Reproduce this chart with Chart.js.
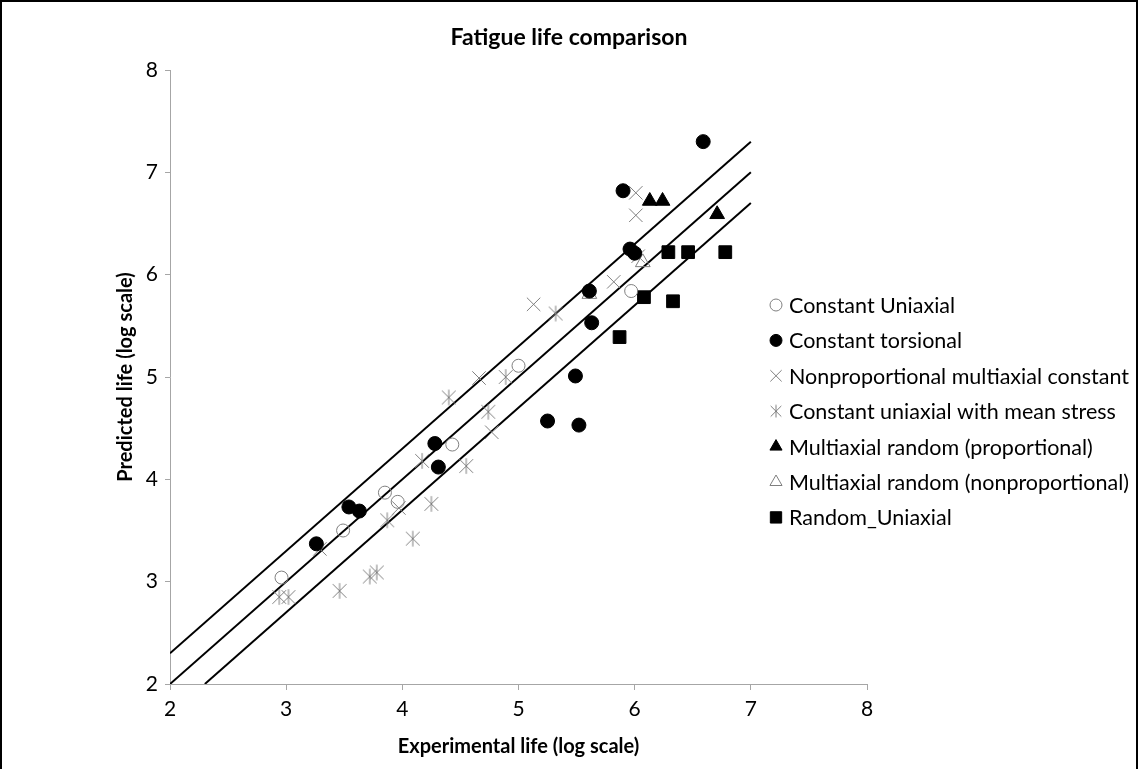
<!DOCTYPE html>
<html>
<head>
<meta charset="utf-8">
<title>Fatigue life comparison</title>
<script src="https://cdn.jsdelivr.net/npm/chart.js@4.4.0/dist/chart.umd.min.js"></script>
<style>
    html, body { margin: 0; padding: 0; background: #fff; }
</style>
</head>
<body>
<canvas id="fatigueChart" width="1138" height="769"></canvas>
<script>
/* DATOS (log experimental vs log predicho) */

// Constant Uniaxial
const uniaxialX = [2.96, 3.49, 3.85, 3.96, 4.43, 5.00, 5.97];
const uniaxialY = [3.04, 3.50, 3.87, 3.78, 4.34, 5.11, 5.84];

// Constant torsional
const torsionalX = [3.26, 3.54, 3.63, 4.28, 4.31, 5.25, 5.52, 5.49, 5.63, 5.61, 5.96, 6.00, 5.90, 6.59];
const torsionalY = [3.37, 3.73, 3.69, 4.35, 4.12, 4.57, 4.53, 5.01, 5.53, 5.84, 6.25, 6.21, 6.82, 7.30];

// Nonproportional multiaxial constant
const nonpropX = [3.29, 3.97, 4.66, 4.77, 5.13, 5.82, 6.03, 6.01, 6.01];
const nonpropY = [3.32, 3.72, 4.99, 4.46, 5.71, 5.93, 6.18, 6.80, 6.58];

// Constant uniaxial with mean stress
const meanStressX = [2.94, 3.02, 3.46, 3.72, 3.78, 3.87, 4.09, 4.25, 4.17, 4.55, 4.40, 4.74, 4.89, 5.32];
const meanStressY = [2.85, 2.85, 2.91, 3.05, 3.09, 3.60, 3.42, 3.76, 4.18, 4.13, 4.80, 4.66, 5.00, 5.62];

// Multiaxial random (proportional / nonproportional)
const propRandomX = [6.13, 6.24, 6.71];
const propRandomY = [6.72, 6.72, 6.59];
const nonpropRandomX = [5.61, 6.07];
const nonpropRandomY = [5.81, 6.12];

// Random_Uniaxial
const randomUniX = [5.87, 6.08, 6.33, 6.29, 6.46, 6.78];
const randomUniY = [5.39, 5.78, 5.74, 6.22, 6.22, 6.22];

// Lineas de referencia: y = x y banda de +/- 0.3
const centerLineX = [2, 7];
const centerLineY = [2, 7];
const upperLineX = [2, 7];
const upperLineY = [2.3, 7.3];
const lowerLineX = [2.3, 7];
const lowerLineY = [2, 6.7];

// Ejes
const axisMin = 2;
const axisMax = 8;
const axisStep = 1;

const chartTitle = 'Fatigue life comparison';

function zip(xs, ys) {
    return xs.map((x, i) => ({ x: x, y: ys[i] }));
}

// Marcador asterisco (x con linea vertical) como en Excel
function makeAsterisk(size) {
    const c = document.createElement('canvas');
    c.width = size;
    c.height = size;
    const g = c.getContext('2d');
    const m = size / 2;
    const d = size * 0.38;
    g.strokeStyle = '#7f7f7f';
    g.lineWidth = 1;
    g.beginPath();
    g.moveTo(m - d, m - d); g.lineTo(m + d, m + d);
    g.moveTo(m + d, m - d); g.lineTo(m - d, m + d);
    g.moveTo(m, m - d - 1); g.lineTo(m, m + d + 1);
    g.stroke();
    return c;
}
const asteriskBig = makeAsterisk(18);
const asteriskSmall = makeAsterisk(14);

const FONT = 'Lato, "Open Sans", sans-serif';

function refLine(xs, ys) {
    return {
        label: '',
        data: zip(xs, ys),
        showLine: true,
        borderColor: '#000',
        borderWidth: 2,
        pointRadius: 0,
        fill: false,
        order: 10
    };
}

// Leyenda dibujada a mano sobre el area del grafico
const sideLegend = {
    id: 'sideLegend',
    afterDraw(chart) {
        const ctx = chart.ctx;
        const startY = 305;
        const stepY = 35.4;
        const markerX = 776;
        const textX = 789;
        let row = 0;
        ctx.save();
        ctx.font = '21.5px ' + FONT;
        ctx.textBaseline = 'middle';
        ctx.textAlign = 'left';
        chart.data.datasets.forEach(ds => {
            if (ds.showLine) return;
            const y = startY + row * stepY;
            ctx.fillStyle = ds.backgroundColor;
            ctx.strokeStyle = ds.borderColor;
            ctx.lineWidth = ds.borderWidth;
            Chart.helpers.drawPoint(ctx, {
                pointStyle: ds.legendStyle || ds.pointStyle,
                radius: ds.legendRadius,
                rotation: 0,
                borderWidth: ds.borderWidth
            }, markerX, y);
            ctx.fillStyle = '#000';
            ctx.fillText(ds.label, textX, y + 1);
            row++;
        });
        ctx.restore();
    }
};

// Titulo centrado sobre toda la figura + marco negro
const frameAndTitle = {
    id: 'frameAndTitle',
    afterDraw(chart) {
        const ctx = chart.ctx;
        ctx.save();
        ctx.fillStyle = '#000';
        ctx.font = 'bold 23px ' + FONT;
        ctx.textAlign = 'center';
        ctx.textBaseline = 'middle';
        ctx.fillText(chartTitle, chart.width / 2, 38);

        ctx.strokeStyle = '#000';
        ctx.lineWidth = 2;
        ctx.beginPath();
        ctx.moveTo(1, chart.height);
        ctx.lineTo(1, 1);
        ctx.lineTo(chart.width - 1, 1);
        ctx.lineTo(chart.width - 1, chart.height);
        ctx.stroke();
        ctx.restore();
    }
};

var canvas = document.getElementById('fatigueChart');
if (canvas) {
    var ctx = canvas.getContext('2d');
    var fatigueChart = new Chart(ctx, {
        type: 'scatter',
        data: {
            datasets: [
                {
                    label: 'Constant Uniaxial',
                    data: zip(uniaxialX, uniaxialY),
                    pointStyle: 'circle',
                    pointRadius: 6.5,
                    legendRadius: 6,
                    backgroundColor: 'rgba(255,255,255,0)',
                    borderColor: '#7f7f7f',
                    borderWidth: 1
                },
                {
                    label: 'Constant torsional',
                    data: zip(torsionalX, torsionalY),
                    pointStyle: 'circle',
                    pointRadius: 7,
                    legendRadius: 6,
                    backgroundColor: '#000',
                    borderColor: '#000',
                    borderWidth: 1
                },
                {
                    label: 'Nonproportional multiaxial constant',
                    data: zip(nonpropX, nonpropY),
                    pointStyle: 'crossRot',
                    pointRadius: 9.5,
                    legendRadius: 8,
                    backgroundColor: '#7f7f7f',
                    borderColor: '#7f7f7f',
                    borderWidth: 1
                },
                {
                    label: 'Constant uniaxial with mean stress',
                    data: zip(meanStressX, meanStressY),
                    pointStyle: asteriskBig,
                    legendStyle: asteriskSmall,
                    pointRadius: 9,
                    legendRadius: 7,
                    backgroundColor: '#7f7f7f',
                    borderColor: '#7f7f7f',
                    borderWidth: 1
                },
                {
                    label: 'Multiaxial random (proportional)',
                    data: zip(propRandomX, propRandomY),
                    pointStyle: 'triangle',
                    pointRadius: 8.5,
                    legendRadius: 7,
                    backgroundColor: '#000',
                    borderColor: '#000',
                    borderWidth: 1
                },
                {
                    label: 'Multiaxial random (nonproportional)',
                    data: zip(nonpropRandomX, nonpropRandomY),
                    pointStyle: 'triangle',
                    pointRadius: 8.5,
                    legendRadius: 7,
                    backgroundColor: 'rgba(255,255,255,0)',
                    borderColor: '#7f7f7f',
                    borderWidth: 1
                },
                {
                    label: 'Random_Uniaxial',
                    data: zip(randomUniX, randomUniY),
                    pointStyle: 'rect',
                    pointRadius: 9,
                    legendRadius: 8,
                    backgroundColor: '#000',
                    borderColor: '#000',
                    borderWidth: 1
                },
                refLine(upperLineX, upperLineY),
                refLine(centerLineX, centerLineY),
                refLine(lowerLineX, lowerLineY)
            ]
        },
        options: {
            responsive: false,
            animation: false,
            layout: {
                padding: { top: 70, right: 271, bottom: 0, left: 0 }
            },
            plugins: {
                legend: { display: false },
                tooltip: { enabled: false },
                title: { display: false }
            },
            scales: {
                x: {
                    type: 'linear',
                    min: axisMin,
                    max: axisMax,
                    afterFit: scale => { scale.height = 85; },
                    border: { color: '#a6a6a6', width: 1 },
                    grid: { drawOnChartArea: false, color: '#a6a6a6', tickLength: 6 },
                    ticks: {
                        stepSize: axisStep,
                        color: '#000',
                        padding: 7,
                        font: { family: FONT, size: 21 }
                    },
                    title: {
                        display: true,
                        text: 'Experimental life (log scale)',
                        color: '#000',
                        font: { family: FONT, size: 20, weight: 'bold', lineHeight: 1.2 },
                        padding: { top: 0, bottom: 10 }
                    }
                },
                y: {
                    type: 'linear',
                    min: axisMin,
                    max: axisMax,
                    afterFit: scale => { scale.width = 170; },
                    border: { color: '#a6a6a6', width: 1 },
                    grid: { drawOnChartArea: false, color: '#a6a6a6', tickLength: 5 },
                    ticks: {
                        stepSize: axisStep,
                        color: '#000',
                        padding: 7,
                        font: { family: FONT, size: 21 }
                    },
                    title: {
                        display: true,
                        text: 'Predicted life (log scale)',
                        color: '#000',
                        font: { family: FONT, size: 20, weight: 'bold', lineHeight: 1.2 },
                        padding: { top: 114, bottom: 0 }
                    }
                }
            }
        },
        plugins: [sideLegend, frameAndTitle]
    });
}
</script>
</body>
</html>
